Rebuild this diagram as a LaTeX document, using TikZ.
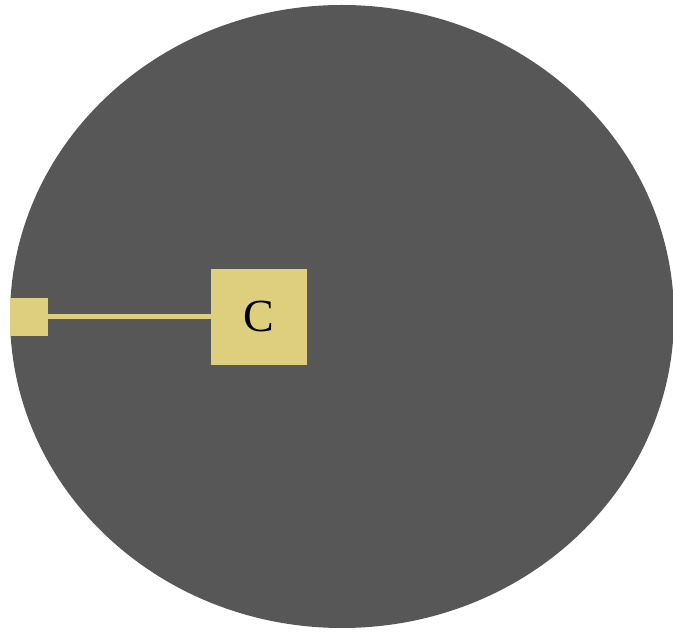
\documentclass[tikz,border=0pt]{standalone}
\usepackage{fontspec}
\setmainfont{Liberation Serif}
\definecolor{bggray}{HTML}{575757}
\definecolor{boxyellow}{HTML}{DDCF7E}
\begin{document}
\begin{tikzpicture}[x=1pt,y=1pt,
  bigbox/.style={fill=boxyellow,draw=none,minimum width=96pt,minimum height=96pt,inner sep=0pt,font=\fontsize{46}{46}\selectfont},
  smallbox/.style={fill=boxyellow,draw=none,minimum width=38pt,minimum height=38pt,inner sep=0pt},
  link/.style={draw=boxyellow,line width=5pt}]
\useasboundingbox (0,0) rectangle (673,632);
\begin{scope}
\clip (0,0) rectangle (673,632);
\fill[bggray] (342,315.5) ellipse [x radius=332, y radius=311.5];
\end{scope}
\node[smallbox] (s) at (29,315) {};
\node[bigbox] (c) at (258.7,315) {C};
\draw[link] (s.east) -- (c.west);
\end{tikzpicture}
\end{document}
